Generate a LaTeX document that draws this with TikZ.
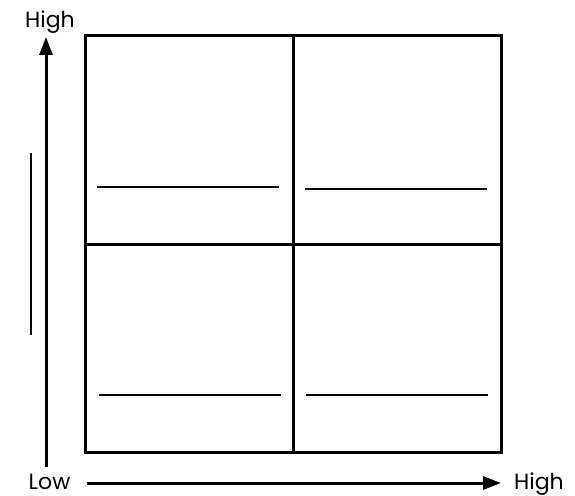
\documentclass[tikz,border=0pt]{standalone}
\usepackage{fontspec}
\setmainfont{Poppins}
\usetikzlibrary{arrows.meta}
\begin{document}
\begin{tikzpicture}[x=1pt,y=-1pt,
  frame/.style={line width=3pt},
  axis/.style={line width=3pt,-{Triangle[length=18pt,width=13pt]}},
  blank/.style={line width=1.2pt},
  lbl/.style={font=\fontsize{22}{26}\selectfont, inner sep=0pt, anchor=base}]
\useasboundingbox (0,0) rectangle (575,495);
% quadrant frame
\draw[frame] (85,36) rectangle (501,452);
\coordinate (mt) at (293,36); \coordinate (mb) at (293,452);
\coordinate (ml) at (85,244); \coordinate (mr) at (501,244);
\draw[frame] (mt) -- (mb);
\draw[frame] (ml) -- (mr);
% blank lines
\draw[blank] (97,187) -- (279,187);
\draw[blank] (305,189) -- (487,189);
\draw[blank] (99,395) -- (281,395);
\draw[blank] (306,395) -- (488,395);
\draw[blank] (31,153) -- (31,335);
% axes
\coordinate (yb) at (46,467); \coordinate (yt) at (46,37);
\coordinate (xl) at (87,483); \coordinate (xr) at (501,483);
\draw[axis] (yb) -- (yt);
\draw[axis] (xl) -- (xr);
% labels
\node[lbl] (hy) at (50,28) {High};
\node[lbl] (lo) at (49.5,489) {Low};
\node[lbl] (hx) at (539,489) {High};
\end{tikzpicture}
\end{document}
